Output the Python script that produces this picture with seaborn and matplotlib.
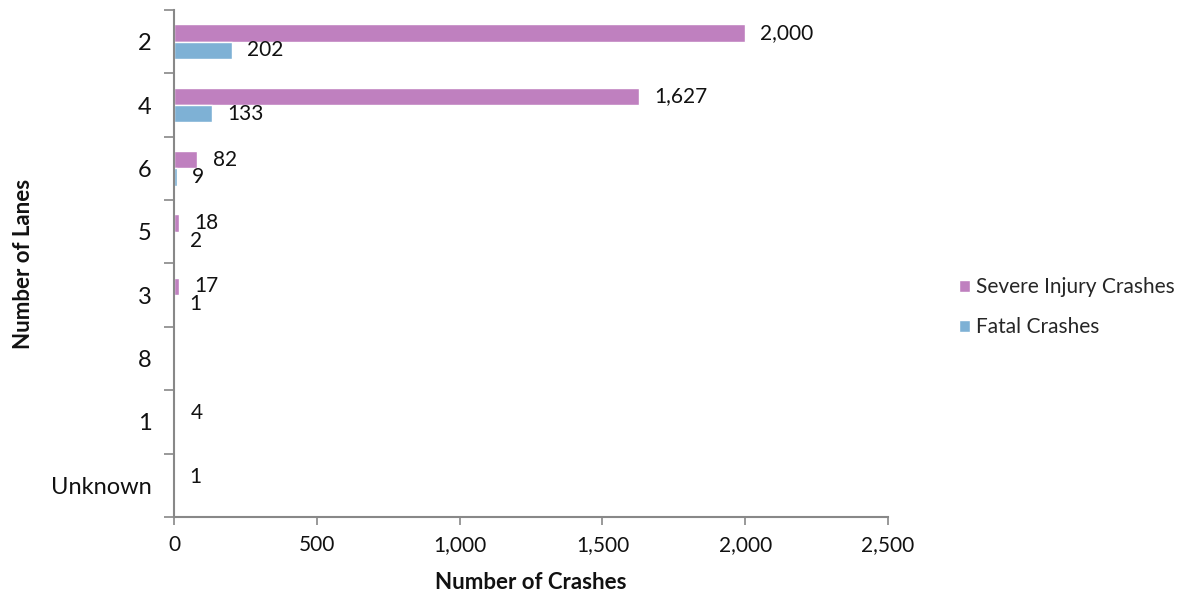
import numpy as np
import pandas as pd
import matplotlib
matplotlib.use("Agg")
import matplotlib.pyplot as plt
import seaborn as sns
from matplotlib.ticker import FuncFormatter, FixedLocator

lanes = ["2", "4", "6", "5", "3", "8", "1", "Unknown"]
severe_injury = [2000, 1627, 82, 18, 17, np.nan, 4, 1]
fatal = [202, 133, 9, 2, 1, np.nan, np.nan, np.nan]
series_names = ["Severe Injury Crashes", "Fatal Crashes"]
x_ticks = [0, 500, 1000, 1500, 2000, 2500]

colors = ["#BF80BF", "#7EB1D5"]

df = pd.concat([
    pd.DataFrame({"lanes": lanes, "crashes": severe_injury, "type": series_names[0]}),
    pd.DataFrame({"lanes": lanes, "crashes": fatal, "type": series_names[1]}),
]).dropna()

sns.set_style("white")
plt.rcParams["font.family"] = ["Lato", "DejaVu Sans"]

fig = plt.figure(figsize=(12, 6.01), dpi=100)
ax = fig.add_axes([0.145, 0.1398, 0.595, 0.8436])

sns.barplot(data=df, x="crashes", y="lanes", hue="type", order=lanes,
            hue_order=series_names, palette=colors, orient="h",
            width=0.55, ax=ax, errorbar=None, saturation=1)

for cont in ax.containers:
    ax.bar_label(cont, fmt="{:,.0f}", padding=11, fontsize=15, color="#111111")

ax.set_xlim(0, 2500)
ax.set_ylim(len(lanes) - 0.5, -0.5)
ax.xaxis.set_major_locator(FixedLocator(x_ticks))
ax.xaxis.set_major_formatter(FuncFormatter(lambda v, p: f"{v:,.0f}"))
ax.tick_params(axis="x", labelsize=15, length=6, color="#888888", width=1.2,
               labelcolor="#111111", pad=7, bottom=True)
ax.tick_params(axis="y", which="major", labelsize=17, length=0, pad=16,
               labelcolor="#111111")
ax.yaxis.set_minor_locator(FixedLocator(np.arange(-0.5, len(lanes), 1.0)))
ax.tick_params(axis="y", which="minor", length=7, color="#888888", width=1.2, left=True)

for side in ["top", "right"]:
    ax.spines[side].set_visible(False)
for side in ["left", "bottom"]:
    ax.spines[side].set_color("#888888")
    ax.spines[side].set_linewidth(1.5)

ax.set_xlabel("Number of Crashes", fontsize=16, fontweight="bold", labelpad=12,
              color="#111111")
ax.set_ylabel("Number of Lanes", fontsize=16, fontweight="bold", labelpad=12,
              color="#111111")

handles, labels = ax.get_legend_handles_labels()
ax.legend(handles, labels, loc="center left", bbox_to_anchor=(1.1, 0.414),
          frameon=False, fontsize=15, handlelength=0.5, handleheight=0.5,
          handletextpad=0.3, labelspacing=0.95, borderpad=0, borderaxespad=0)

fig.savefig("out.png", dpi=100)
